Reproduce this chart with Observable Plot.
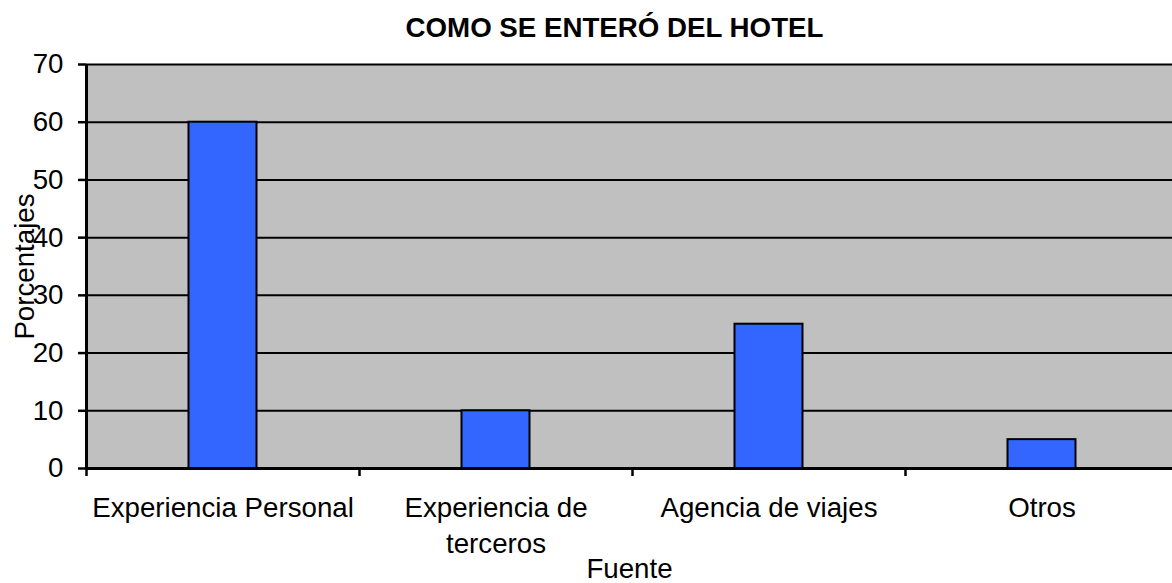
<!DOCTYPE html>
<html>
<head>
<meta charset="utf-8">
<script src="https://cdn.jsdelivr.net/npm/d3@7"></script>
<script src="https://cdn.jsdelivr.net/npm/@observablehq/plot@0.6"></script>
<style>
  body { margin: 0; background: #fff; font-family: "Liberation Sans", Arial, sans-serif; }
  #title { height: 50px; padding-top: 3px; padding-left: 57px; line-height: 50px; text-align: center;
           font-weight: bold; font-size: 27.7px; color: #000; box-sizing: border-box; width: 1172px; }
  svg { display: block; }
</style>
</head>
<body>
<div id="title">COMO SE ENTERÓ DEL HOTEL</div>
<div id="chart"></div>
<script>
const categories = ["Experiencia Personal", "Experiencia de terceros", "Agencia de viajes", "Otros"];
const tickLabels = ["Experiencia Personal", "Experiencia de\nterceros", "Agencia de viajes", "Otros"];
const values = [60, 10, 25, 5];
const yTicks = [0, 10, 20, 30, 40, 50, 60, 70];
const yTitle = "Porcentajes";
const xTitle = "Fuente";

const data = categories.map((c, i) => ({fuente: c, pct: values[i]}));
const labelOf = new Map(categories.map((c, i) => [c, tickLabels[i]]));

const band = 273;
const fs = 27.7;
const chart = Plot.plot({
  width: 1172,
  height: 533,
  marginTop: 14,
  marginBottom: 115,
  marginLeft: 86,
  marginRight: 0,
  style: {fontFamily: "'Liberation Sans', Arial, sans-serif", fontSize: fs + "px", color: "#000", background: "#fff", overflow: "visible"},
  x: {domain: categories, range: [86, 86 + 4 * band], padding: 0},
  y: {domain: [0, 70]},
  marks: [
    Plot.frame({fill: "#C0C0C0", stroke: null}),
    Plot.gridY(yTicks, {stroke: "#000", strokeOpacity: 1, strokeWidth: 2}),
    Plot.barY(data, {x: "fuente", y: "pct", fill: "#3366FF", stroke: "#000", strokeWidth: 2, insetLeft: 102.5, insetRight: 102.5}),
    Plot.ruleY([0], {stroke: "#000", strokeWidth: 3}),
    Plot.ruleX([categories[0]], {dx: -band / 2, stroke: "#000", strokeWidth: 3}),
    Plot.axisY({ticks: yTicks, tickSize: 8, tickPadding: 15, tickFormat: d => String(d), strokeWidth: 2.5,
                fontSize: fs, label: null}),
    Plot.text([yTitle], {frameAnchor: "left", dx: -61, rotate: -90, lineAnchor: "middle", textAnchor: "middle", fontSize: fs, fill: "#000"}),
    Plot.axisX({ticks: categories, tickSize: 8, tickFormat: () => "", dx: -band / 2, strokeWidth: 2.5, label: null}),
    Plot.axisX({ticks: categories, tickSize: 0, tickPadding: 23, tickFormat: d => labelOf.get(d), lineHeight: 1.3,
                fontSize: fs, label: null}),
    Plot.text([xTitle], {frameAnchor: "bottom", dy: 101, lineAnchor: "middle", textAnchor: "middle", fontSize: fs, fill: "#000"})
  ]
});
document.getElementById("chart").appendChild(chart);
</script>
</body>
</html>
